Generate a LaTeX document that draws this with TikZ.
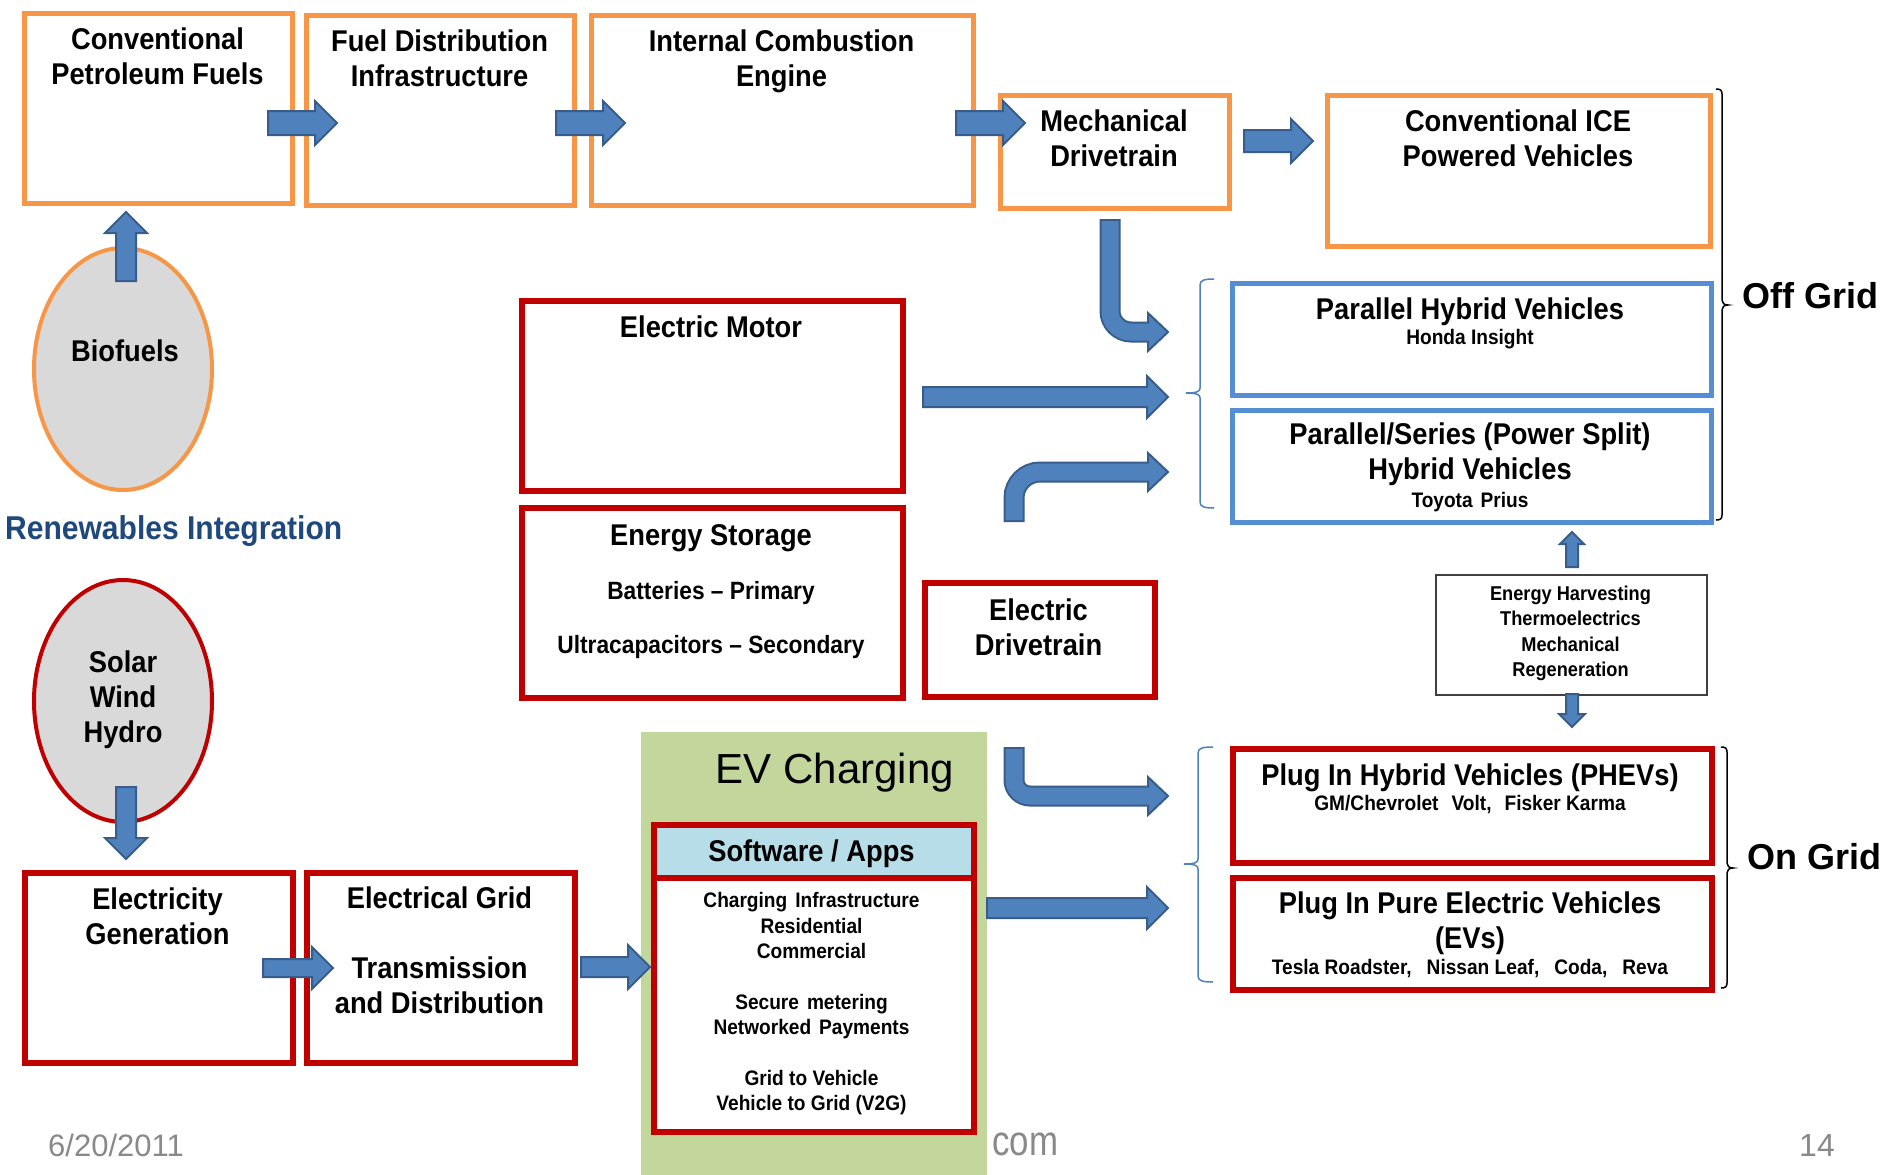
\documentclass[tikz,border=0pt]{standalone}
\usepackage{fontspec}
\setmainfont{Liberation Sans}
\newfontfamily\cnd[FakeStretch=0.91]{Liberation Sans}
\newfontfamily\cndc[FakeStretch=0.83]{Liberation Sans}
\usetikzlibrary{shapes.geometric}
\definecolor{orng}{HTML}{F79646}
\definecolor{redb}{HTML}{C00000}
\definecolor{blueb}{HTML}{558ED5}
\definecolor{afill}{HTML}{4F81BD}
\definecolor{abord}{HTML}{385D8A}
\definecolor{ellg}{HTML}{D9D9D9}
\definecolor{evgreen}{HTML}{C3D69B}
\definecolor{hdrblue}{HTML}{B7DEE8}
\definecolor{navy}{HTML}{1F497D}
\definecolor{foot}{HTML}{898989}
\definecolor{ehgray}{HTML}{404040}

\newcommand{\harr}[5]{%
  \filldraw[barrow] (#1,{#3-#4}) -- ({#2-#5},{#3-#4}) -- ({#2-#5},{#3-#5}) -- (#2,#3) -- ({#2-#5},{#3+#5}) -- ({#2-#5},{#3+#4}) -- (#1,{#3+#4}) -- cycle;}
\newcommand{\uarr}[5]{%
  \filldraw[barrow] ({#1-#4},#2) -- ({#1-#4},{#3+#5}) -- ({#1-#5},{#3+#5}) -- (#1,#3) -- ({#1+#5},{#3+#5}) -- ({#1+#4},{#3+#5}) -- ({#1+#4},#2) -- cycle;}
\newcommand{\darr}[5]{%
  \filldraw[barrow] ({#1-#4},#2) -- ({#1-#4},{#3-#5}) -- ({#1-#5},{#3-#5}) -- (#1,#3) -- ({#1+#5},{#3-#5}) -- ({#1+#4},{#3-#5}) -- ({#1+#4},#2) -- cycle;}

\tikzset{
  barrow/.style={fill=afill, draw=abord, line width=2, line join=miter},
  shaftout/.style={draw=abord, line width=21},
  shaftin/.style={draw=afill, line width=17},
  boxbase/.style={rectangle, inner sep=0, anchor=north west, fill=white},
  obox/.style={boxbase, draw=orng, line width=5},
  rbox/.style={boxbase, draw=redb, line width=6},
  bbox/.style={boxbase, draw=blueb, line width=5},
  gbox/.style={boxbase, draw=ehgray, line width=1.5},
  bt/.style={font=\cnd\bfseries\fontsize{30}{35}\selectfont, align=center, inner sep=0,
    execute at begin node=\strut, execute at end node=\strut},
  mt/.style={font=\cnd\bfseries\fontsize{25}{29}\selectfont, align=center, inner sep=0,
    execute at begin node=\strut, execute at end node=\strut},
  st/.style={font=\cnd\bfseries\fontsize{21}{25.4}\selectfont, align=center, inner sep=0,
    execute at begin node=\strut, execute at end node=\strut},
  xt/.style={font=\cnd\bfseries\fontsize{20}{25.4}\selectfont, align=center, inner sep=0,
    execute at begin node=\strut, execute at end node=\strut},
  gridt/.style={font=\bfseries\fontsize{36}{41}\selectfont, inner sep=0, anchor=west,
    execute at begin node=\strut},
  foott/.style={text=foot, inner sep=0, anchor=west, execute at begin node=\strut},
  ellnode/.style={ellipse, minimum width=178, minimum height=242, line width=4, fill=ellg, inner sep=0},
  blackbrace/.style={draw=black, line width=1.5},
  bluebrace/.style={draw=afill, line width=1.5},
}

\begin{document}
\begin{tikzpicture}[x=1pt, y=-1pt]
\useasboundingbox (0,0) rectangle (1893,1175);
\fill[white] (0,0) rectangle (1893,1175);

% ---------- top row (orange) ----------
\node[obox, minimum width=268, minimum height=190] (cpf) at (22,10.5) {};
\node[obox, minimum width=268, minimum height=190] (fdi) at (304,12.5) {};
\node[obox, minimum width=382, minimum height=190] (ice) at (589,12.5) {};
\node[obox, minimum width=229, minimum height=113] (md) at (998,92.5) {};
\node[obox, minimum width=383, minimum height=151] (cice) at (1325,92.5) {};

\node[bt] (cpft) at (157.5,61) {Conventional\\Petroleum Fuels};
\node[bt] (fdit) at (439.5,63) {Fuel Distribution\\Infrastructure};
\node[bt] (icet) at (781.5,63) {Internal Combustion\\Engine};
\node[bt] (mdt) at (1114,143) {Mechanical\\Drivetrain};
\node[bt] (cicet) at (1518,143) {Conventional ICE\\Powered Vehicles};

% ---------- middle (red) ----------
\node[rbox, minimum width=381, minimum height=190] (em) at (519,297.5) {};
\node[rbox, minimum width=381, minimum height=190] (es) at (519,504.5) {};
\node[rbox, minimum width=230, minimum height=114] (ed) at (922,579.5) {};
\node[bt] (emt) at (711,330) {Electric Motor};
\node[bt] (est1) at (711,538) {Energy Storage};
\node[mt] (est2) at (711,593.5) {Batteries – Primary};
\node[mt] (est3) at (711,648) {Ultracapacitors – Secondary};
\node[bt] (edt) at (1038.5,632) {Electric\\Drivetrain};

% ---------- hybrids (blue) ----------
\node[bbox, minimum width=479, minimum height=112] (ph) at (1229.5,280.5) {};
\node[bbox, minimum width=479, minimum height=112] (ps) at (1229.5,407.5) {};
\node[bt] (pht1) at (1470,312) {Parallel Hybrid Vehicles};
\node[st] (pht2) at (1470,339.5) {Honda Insight};
\node[bt] (pst1) at (1470,456.5) {Parallel/Series (Power Split)\\Hybrid Vehicles};
\node[st] (pst2) at (1470,502) {Toyota\hspace{8pt}Prius};

% ---------- energy harvesting ----------
\node[gbox, minimum width=271, minimum height=120] (eh) at (1435,574) {};
\node[xt] (eht) at (1570.5,635) {Energy Harvesting\\Thermoelectrics\\Mechanical\\Regeneration};

% ---------- plug-ins (red) ----------
\node[rbox, minimum width=479, minimum height=114] (phev) at (1229.5,745.5) {};
\node[rbox, minimum width=479, minimum height=112] (ev) at (1229.5,874.5) {};
\node[bt] (phevt1) at (1470,778) {Plug In Hybrid Vehicles (PHEVs)};
\node[st] (phevt2) at (1470,805.5) {GM/Chevrolet\hspace{13pt}Volt,\hspace{13pt}Fisker Karma};
\node[bt] (evt1) at (1470,925) {Plug In Pure Electric Vehicles\\(EVs)};
\node[st] (evt2) at (1470,969.5) {Tesla Roadster,\hspace{15pt}Nissan Leaf,\hspace{15pt}Coda,\hspace{15pt}Reva};

% ---------- bottom left ----------
\node[rbox, minimum width=268, minimum height=190] (eg) at (22,869.5) {};
\node[rbox, minimum width=268, minimum height=190] (egrid) at (304,869.5) {};
\node[bt] (egt) at (157.5,921) {Electricity\\Generation};
\node[bt] (egridt) at (439.5,955.5) {Electrical Grid\\[35pt]Transmission\\and Distribution};

% ---------- ellipses ----------
\node[ellnode, draw=orng] (bio) at (123,369) {};
\node[bt] (biot) at (125,354) {Biofuels};
\node[ellnode, draw=redb] (swh) at (123,701) {};
\node[bt] (swht) at (123,701.5) {Solar\\Wind\\Hydro};
\node[font=\cnd\bfseries\fontsize{33}{38}\selectfont, text=navy, inner sep=0, anchor=west,
  execute at begin node=\strut] (ren) at (5,532) {Renewables Integration};

% ---------- EV charging ----------
\node[rectangle, fill=evgreen, inner sep=0, anchor=north west, minimum width=346, minimum height=443] (evbg) at (641,732) {};
\node[font=\fontsize{42}{48}\selectfont, inner sep=0, execute at begin node=\strut] (evct) at (835,773.5) {EV Charging};
\node[rbox, minimum width=320, minimum height=307] (evbox) at (651,822) {};
\node[rbox, fill=hdrblue, minimum width=320, minimum height=53] (evhdr) at (651,822) {};
\node[bt] (swt) at (811.5,854) {Software / Apps};
\node[st] (evlt) at (811.5,1005.5) {Charging\hspace{8pt}Infrastructure\\Residential\\Commercial\\[25.4pt]Secure\hspace{8pt}metering\\Networked\hspace{8pt}Payments\\[25.4pt]Grid to Vehicle\\Vehicle to Grid (V2G)};

% ---------- braces ----------
\draw[blackbrace] (1716,89) .. controls (1720,89) and (1722,90) .. (1722,94) -- (1722,300)
  .. controls (1722,303) and (1724,305) .. (1728,305) .. controls (1724,305) and (1722,307) .. (1722,310)
  -- (1722,515) .. controls (1722,519) and (1720,520) .. (1716,520);
\draw[blackbrace] (1721,747) .. controls (1725,747) and (1727,748) .. (1727,752) -- (1727,863)
  .. controls (1727,866) and (1729,868) .. (1733,868) .. controls (1729,868) and (1727,870) .. (1727,873)
  -- (1727,983) .. controls (1727,987) and (1725,988) .. (1721,988);
\draw[bluebrace] (1214,279) .. controls (1205,279) and (1200,280) .. (1200,285) -- (1200,388)
  .. controls (1200,391) and (1198,393) .. (1186,393) .. controls (1198,393) and (1200,395) .. (1200,398)
  -- (1200,502) .. controls (1200,507) and (1205,508) .. (1214,508);
\draw[bluebrace] (1213,747) .. controls (1203,747) and (1198,748) .. (1198,753) -- (1198,859)
  .. controls (1198,862) and (1196,864) .. (1184,864) .. controls (1196,864) and (1198,866) .. (1198,869)
  -- (1198,976) .. controls (1198,981) and (1203,982) .. (1213,982);

\node[gridt] (offg) at (1742,300.5) {Off Grid};
\node[gridt] (ong) at (1747,861) {On Grid};

% ---------- straight block arrows ----------
\harr{268}{337}{123}{12}{22}
\harr{556}{625}{123}{12}{22}
\harr{956}{1025}{123}{12}{22}
\harr{1244}{1313}{141}{11}{22}
\harr{923}{1168}{397}{10}{21}
\harr{263}{333}{968}{9}{21}
\harr{581}{650}{967}{10}{22}
\harr{987}{1168}{908}{10}{21}
\uarr{126}{281}{212}{10}{21}
\darr{126}{787}{859}{10}{21}
\uarr{1572}{567}{532}{6}{12}
\darr{1572}{694}{727}{6}{13}

% ---------- bent block arrows ----------
\draw[shaftout, rounded corners=21] (1110,219) -- (1110,332) -- (1150,332);
\filldraw[barrow] (1148,313) -- (1168,332) -- (1148,351) -- cycle;
\draw[shaftin, rounded corners=21] (1110,221) -- (1110,332) -- (1150,332);

\draw[shaftout, rounded corners=26] (1014,522) -- (1014,472) -- (1150,472);
\filldraw[barrow] (1148,453) -- (1168,472) -- (1148,491) -- cycle;
\draw[shaftin, rounded corners=26] (1014,520) -- (1014,472) -- (1150,472);

\draw[shaftout, rounded corners=16] (1014,747) -- (1014,796) -- (1150,796);
\filldraw[barrow] (1148,777) -- (1168,796) -- (1148,815) -- cycle;
\draw[shaftin, rounded corners=16] (1014,749) -- (1014,796) -- (1150,796);

% ---------- footer ----------
\node[foott, font=\fontsize{31}{36}\selectfont] (date) at (48,1149) {6/20/2011};
\node[foott, font=\cndc\fontsize{42}{48}\selectfont] (com) at (992,1146) {com};
\node[foott, font=\fontsize{32}{37}\selectfont] (pg) at (1799,1149) {14};
\end{tikzpicture}
\end{document}
